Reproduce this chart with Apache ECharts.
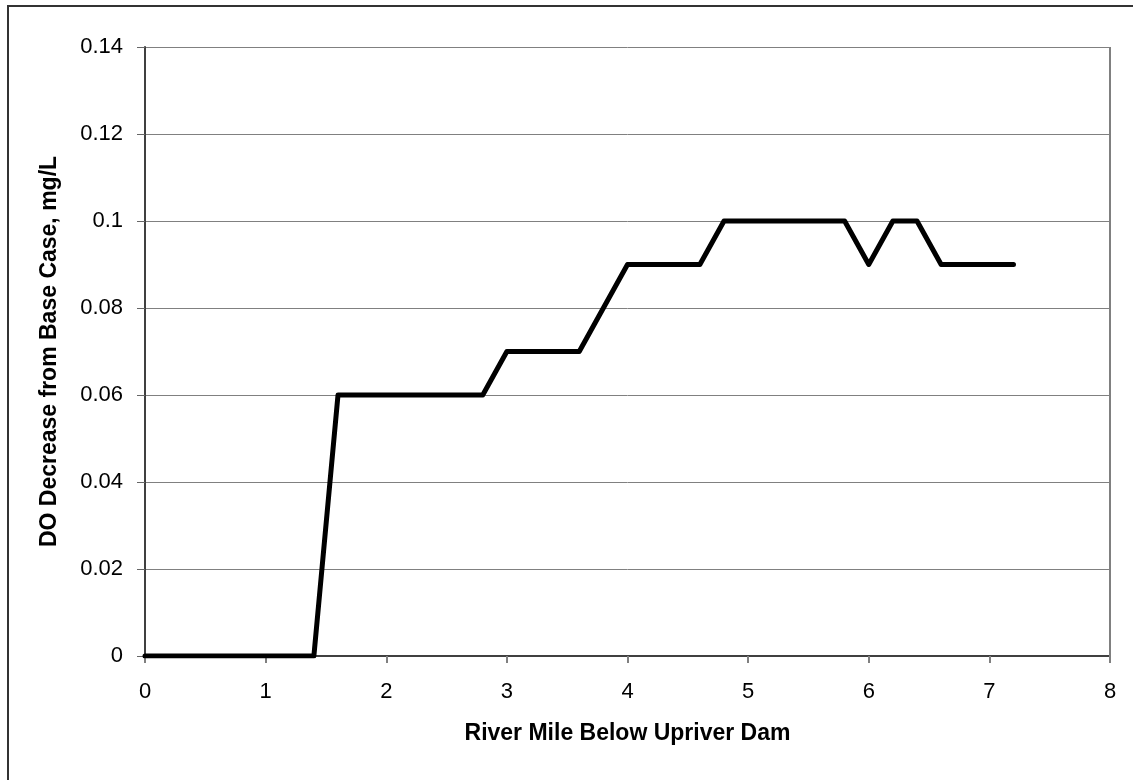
<!DOCTYPE html>
<html>
<head>
    <meta charset="utf-8">
    <title>DO Decrease</title>
    <script src="https://cdn.jsdelivr.net/npm/echarts@6/dist/echarts.min.js"></script>
    <style>body{margin:0;background:#fff}</style>
</head>
<body>
    <div id="chart" style="width:1133px;height:780px"></div>
    <script>
        // river mile and DO decrease (mg/L)
        const miles = [0, 0.2, 0.4, 0.6, 0.8, 1.0, 1.2, 1.4, 1.6, 1.8, 2.0, 2.2, 2.4, 2.6, 2.8, 3.0,
            3.2, 3.4, 3.6, 3.8, 4.0, 4.2, 4.4, 4.6, 4.8, 5.0, 5.2, 5.4, 5.6, 5.8, 6.0, 6.2, 6.4, 6.6, 6.8, 7.0, 7.2]
        const doDecrease = [0, 0, 0, 0, 0, 0, 0, 0, 0.06, 0.06, 0.06, 0.06, 0.06, 0.06, 0.06, 0.07,
            0.07, 0.07, 0.07, 0.08, 0.09, 0.09, 0.09, 0.09, 0.1, 0.1, 0.1, 0.1, 0.1, 0.1, 0.09, 0.1, 0.1, 0.09, 0.09, 0.09, 0.09]

        const font = 'Liberation Sans, Arial, sans-serif'
        const chart = echarts.init(document.getElementById('chart'))
        chart.setOption({
            animation: false,
            graphic: [{
                // outer chart frame, only top and left edges fall inside the picture
                type: 'rect',
                shape: { x: 8, y: 6, width: 1200, height: 900 },
                style: { fill: 'none', stroke: '#333', lineWidth: 2 }
            }],
            grid: { left: 145, right: 23, top: 47, bottom: 124 },
            xAxis: {
                type: 'value',
                min: 0, max: 8, interval: 1,
                name: 'River Mile Below Upriver Dam',
                nameLocation: 'middle',
                nameGap: 66,
                nameTextStyle: { fontFamily: font, fontSize: 23, fontWeight: 'bold', color: '#000' },
                axisLine: { lineStyle: { color: '#404040', width: 2 } },
                axisTick: { show: true, length: 7, lineStyle: { color: '#808080', width: 2 } },
                axisLabel: { fontFamily: font, fontSize: 22, color: '#000', margin: 25 },
                splitLine: { show: false }
            },
            yAxis: {
                type: 'value',
                min: 0, max: 0.14, interval: 0.02,
                name: 'DO Decrease from Base Case, mg/L',
                nameLocation: 'middle',
                nameGap: 84,
                nameTextStyle: { fontFamily: font, fontSize: 23, fontWeight: 'bold', color: '#000' },
                axisLine: { show: true, lineStyle: { color: '#404040', width: 2 } },
                axisTick: { show: true, length: 8, lineStyle: { color: '#666', width: 1 } },
                axisLabel: { fontFamily: font, fontSize: 22, color: '#000', margin: 22,
                    formatter: v => String(+v.toFixed(2)) },
                splitLine: { show: true, lineStyle: { color: '#808080', width: 1 } }
            },
            series: [{
                type: 'line',
                data: miles.map((m, i) => [m, doDecrease[i]]),
                showSymbol: false,
                lineStyle: { color: '#000', width: 5, cap: 'round', join: 'round' }
            }, {
                // right edge of plot area
                type: 'line',
                data: [[8, 0], [8, 0.14]],
                showSymbol: false,
                silent: true,
                lineStyle: { color: '#808080', width: 2 }
            }]
        })
    </script>
</body>
</html>
